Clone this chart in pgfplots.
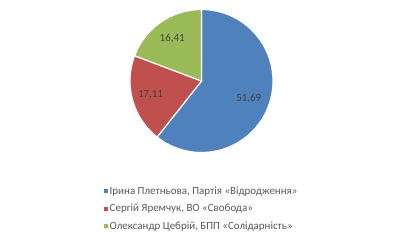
\documentclass[border=0pt]{standalone}
\usepackage{pgfplots}
\pgfplotsset{compat=1.18}
\usepackage{pgfplotstable}
\usepackage{fontspec}
\setmainfont{Carlito}
\definecolor{sBlue}{HTML}{4F81BD}
\definecolor{sRed}{HTML}{C0504D}
\definecolor{sGreen}{HTML}{9BBB59}
\definecolor{txt}{HTML}{404040}
\definecolor{leg}{HTML}{595959}
\pgfplotstableread{
value
51.69
17.11
16.41
}\piedata
\begin{document}
\begin{tikzpicture}
\useasboundingbox (0,0) rectangle (404bp,246bp);
\pgfplotstablegetelem{0}{value}\of\piedata \let\va\pgfplotsretval
\pgfplotstablegetelem{1}{value}\of\piedata \let\vb\pgfplotsretval
\pgfplotstablegetelem{2}{value}\of\piedata \let\vc\pgfplotsretval
\pgfmathsetmacro\tot{\va+\vb+\vc}
\pgfmathsetmacro\aA{90}
\pgfmathsetmacro\aB{90-360*(\va/\tot)}
\pgfmathsetmacro\aC{\aB-360*(\vb/\tot)}
\pgfmathsetmacro\aD{-270}
\pgfmathsetmacro\cx{201.5}
\pgfmathsetmacro\cy{165}
\pgfmathsetmacro\rr{71.5}
\pgfmathsetmacro\mA{(\aA+\aB)/2}
\pgfmathsetmacro\mB{(\aB+\aC)/2}
\pgfmathsetmacro\mC{(\aC+\aD)/2}
\begin{axis}[
  at={(0,0)}, anchor=south west,
  width=404bp, height=246bp, scale only axis,
  xmin=0, xmax=404, ymin=0, ymax=246,
  hide axis, clip=false,
  legend image code/.code={\fill[#1,draw=none] (0bp,-2bp) rectangle (4bp,2bp);},
  legend style={at={(axis cs:104,61)}, anchor=north west, draw=none, fill=none,
    font=\fontsize{11}{13}\selectfont, text=leg, row sep=5.5bp, inner sep=0pt,
    nodes={inner sep=1.5bp}},
  legend cell align=left,
]
\addplot[fill=sBlue, draw=white, line width=1.2bp, domain=\aB:\aA, samples=90, variable=\t]
  ({\cx+\rr*cos(t)},{\cy+\rr*sin(t)}) -- (axis cs:\cx,\cy) -- cycle;
\addlegendentry{Ірина Плетньова, Партія «Відродження»}
\addplot[fill=sRed, draw=white, line width=1.2bp, domain=\aC:\aB, samples=40, variable=\t]
  ({\cx+\rr*cos(t)},{\cy+\rr*sin(t)}) -- (axis cs:\cx,\cy) -- cycle;
\addlegendentry{Сергій Яремчук, ВО «Свобода»}
\addplot[fill=sGreen, draw=white, line width=1.2bp, domain=\aD:\aC, samples=40, variable=\t]
  ({\cx+\rr*cos(t)},{\cy+\rr*sin(t)}) -- (axis cs:\cx,\cy) -- cycle;
\addlegendentry{Олександр Цебрій, БПП «Солідарність»}
\node[text=txt, font=\fontsize{11}{13}\selectfont] at (axis cs:{\cx+0.7*\rr*cos(\mA)},{\cy+0.7*\rr*sin(\mA)-1.5}) {51,69};
\node[text=txt, font=\fontsize{11}{13}\selectfont] at (axis cs:{\cx+0.74*\rr*cos(\mB)},{\cy+0.74*\rr*sin(\mB)}) {17,11};
\node[text=txt, font=\fontsize{11}{13}\selectfont] at (axis cs:{\cx+0.72*\rr*cos(\mC)},{\cy+0.72*\rr*sin(\mC)}) {16,41};
\end{axis}
\end{tikzpicture}
\end{document}
